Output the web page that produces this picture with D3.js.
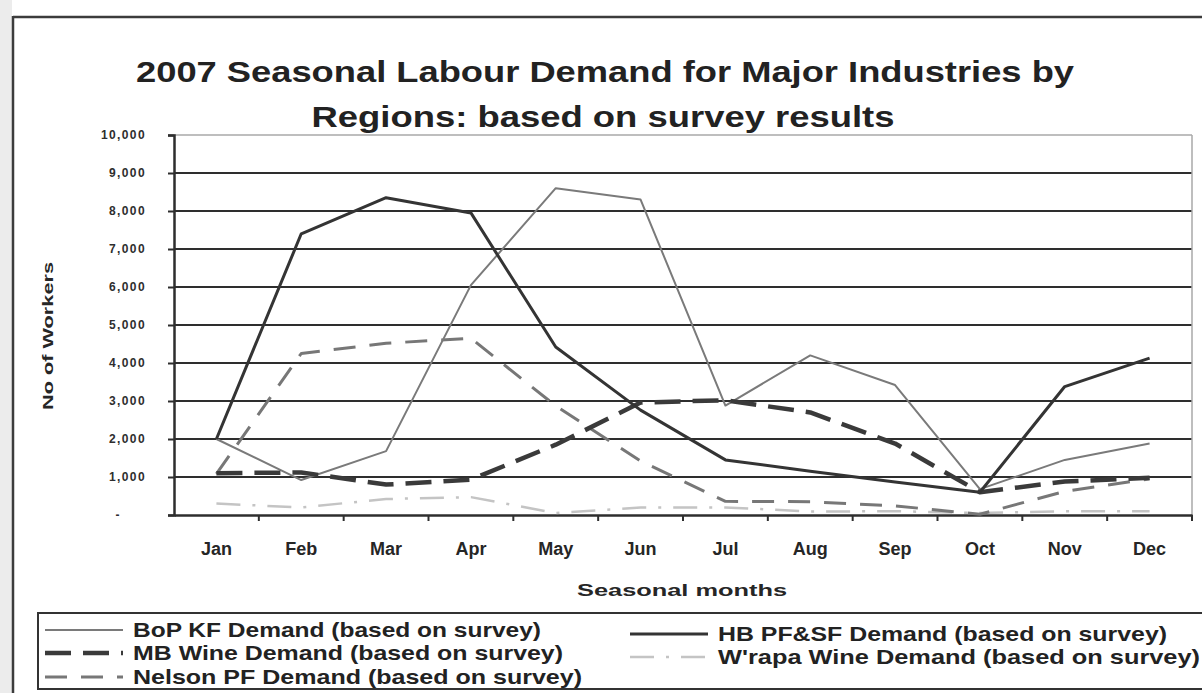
<!DOCTYPE html>
<html>
<head>
<meta charset="utf-8">
<script src="https://cdn.jsdelivr.net/npm/d3@7"></script>
<style>
  html, body { margin: 0; padding: 0; background: #fff; }
  svg { display: block; font-family: "Liberation Sans", Arial, sans-serif; }
</style>
</head>
<body>
<svg id="chart" width="1202" height="693"></svg>
<script>
// Months along the x axis
const months = ["Jan","Feb","Mar","Apr","May","Jun","Jul","Aug","Sep","Oct","Nov","Dec"];

// Workers demanded per month, by region / industry
const bopKF     = [2000, 920, 1680, 6050, 8600, 8300, 2880, 4200, 3420, 680, 1450, 1880];
const hbPFSF    = [2000, 7400, 8350, 7950, 4420, 2760, 1450, 1150, 870, 600, 3380, 4130];
const mbWine    = [1100, 1120, 800, 930, 1850, 2960, 3020, 2700, 1880, 600, 880, 980];
const nelsonPF  = [1080, 4250, 4520, 4650, 2870, 1420, 360, 350, 240, 20, 620, 950];
const wrapaWine = [300, 200, 420, 470, 50, 200, 200, 90, 100, 50, 100, 100];

const yTicks = [0,1000,2000,3000,4000,5000,6000,7000,8000,9000,10000];

const seriesNames = [
  "BoP KF Demand (based on survey)",
  "HB PF&SF Demand (based on survey)",
  "MB Wine Demand (based on survey)",
  "W'rapa Wine Demand (based on survey)",
  "Nelson PF Demand (based on survey)"
];

const series = [
  { name: seriesNames[0], values: bopKF,     stroke: "#7a7a7a", width: 2,   dash: null },
  { name: seriesNames[1], values: hbPFSF,    stroke: "#343434", width: 3,   dash: null },
  { name: seriesNames[2], values: mbWine,    stroke: "#3a3a3a", width: 4.5, dash: "26,12" },
  { name: seriesNames[3], values: wrapaWine, stroke: "#c4c4c4", width: 2.5, dash: "24,12,3,12" },
  { name: seriesNames[4], values: nelsonPF,  stroke: "#777777", width: 3,   dash: "22,14" }
];

const svg = d3.select("#chart");

// page frame
svg.append("rect").attr("x", 0).attr("y", 0).attr("width", 12).attr("height", 693).attr("fill", "#ececec");
svg.append("line").attr("x1", 13).attr("x2", 1202).attr("y1", 17).attr("y2", 17)
  .attr("stroke", "#3c3c3c").attr("stroke-width", 2.5);
svg.append("line").attr("x1", 13).attr("x2", 13).attr("y1", 16).attr("y2", 693)
  .attr("stroke", "#3c3c3c").attr("stroke-width", 2.5);

// title
const title = svg.append("g").attr("font-weight", "bold").attr("font-size", 30).attr("fill", "#222")
  .attr("text-anchor", "middle");
title.append("text").attr("x", 605).attr("y", 82)
  .attr("textLength", 938).attr("lengthAdjust", "spacingAndGlyphs")
  .text("2007 Seasonal Labour Demand for Major Industries by");
title.append("text").attr("x", 603).attr("y", 127)
  .attr("textLength", 583).attr("lengthAdjust", "spacingAndGlyphs")
  .text("Regions: based on survey results");

// scales
const plot = { left: 174, right: 1192, top: 135, bottom: 515 };
const x = d3.scaleBand().domain(months).range([plot.left, plot.right]).paddingInner(0).paddingOuter(0);
const xc = d => x(d) + x.bandwidth() / 2;
const y = d3.scaleLinear().domain([0, 10000]).range([plot.bottom, plot.top]);

// gridlines
svg.append("g").selectAll("line").data(yTicks.filter(v => v > 0)).join("line")
  .attr("x1", plot.left).attr("x2", plot.right)
  .attr("y1", d => y(d)).attr("y2", d => y(d))
  .attr("stroke", d => d === 10000 ? "#a8a8a8" : "#2e2e2e")
  .attr("stroke-width", d => d === 10000 ? 1.5 : 2);
svg.append("line").attr("x1", plot.right).attr("x2", plot.right)
  .attr("y1", plot.top).attr("y2", plot.bottom).attr("stroke", "#a8a8a8").attr("stroke-width", 1.5);

// y axis
const yAxis = d3.axisLeft(y).tickValues(yTicks).tickSize(6).tickPadding(22)
  .tickFormat(d => d === 0 ? "-" : d3.format(",")(d));
const gy = svg.append("g").attr("transform", `translate(${plot.left},0)`).call(yAxis);
gy.select(".domain").attr("stroke", "#2e2e2e").attr("stroke-width", 2.5);
gy.selectAll(".tick line").attr("stroke", "#2e2e2e").attr("stroke-width", 2);
gy.selectAll(".tick text")
  .attr("font-family", "Liberation Sans, Arial, sans-serif")
  .attr("font-size", 12).attr("font-weight", "bold").attr("fill", "#2e2e2e")
  .attr("letter-spacing", 1.4)
  .attr("dx", d => d === 0 ? -25 : 0);

// x axis
const xAxis = d3.axisBottom(x).tickSize(0).tickPadding(27);
const gx = svg.append("g").attr("transform", `translate(0,${plot.bottom})`).call(xAxis);
gx.select(".domain").attr("stroke", "#2e2e2e").attr("stroke-width", 2.5);
gx.selectAll(".tick text")
  .attr("font-family", "Liberation Sans, Arial, sans-serif")
  .attr("font-size", 18).attr("font-weight", "bold").attr("fill", "#262626");
// category boundary ticks
svg.append("g").selectAll("line").data(months.slice(1).concat(["end"])).join("line")
  .attr("x1", d => d === "end" ? plot.right : x(d)).attr("x2", d => d === "end" ? plot.right : x(d))
  .attr("y1", plot.bottom).attr("y2", plot.bottom + 6)
  .attr("stroke", "#2e2e2e").attr("stroke-width", 2);

// axis titles
svg.append("text").attr("x", 682).attr("y", 596).attr("text-anchor", "middle")
  .attr("font-size", 17).attr("font-weight", "bold").attr("fill", "#262626")
  .attr("textLength", 210).attr("lengthAdjust", "spacingAndGlyphs")
  .text("Seasonal months");
svg.append("text").attr("transform", "translate(53,336) rotate(-90)").attr("text-anchor", "middle")
  .attr("font-size", 15).attr("font-weight", "bold").attr("fill", "#262626")
  .attr("textLength", 148).attr("lengthAdjust", "spacingAndGlyphs")
  .text("No of Workers");

// series lines
const line = d3.line().x((d, i) => xc(months[i])).y(d => y(d));
const drawOrder = [3, 4, 0, 2, 1];
svg.append("g").selectAll("path").data(drawOrder.map(i => series[i])).join("path")
  .attr("d", s => line(s.values))
  .attr("fill", "none")
  .attr("stroke", s => s.stroke)
  .attr("stroke-width", s => s.width)
  .attr("stroke-dasharray", s => s.dash)
  .attr("stroke-linejoin", "round");

// legend
svg.append("rect").attr("x", 38).attr("y", 613).attr("width", 1180).attr("height", 76)
  .attr("fill", "none").attr("stroke", "#333").attr("stroke-width", 2);

const legendItems = [
  { s: series[0], x: 45,  y: 630, len: 408 },
  { s: series[2], x: 45,  y: 653, len: 430 },
  { s: series[4], x: 45,  y: 677, len: 449 },
  { s: series[1], x: 630, y: 634, len: 449 },
  { s: series[3], x: 630, y: 657, len: 482 }
];
const lg = svg.append("g").selectAll("g").data(legendItems).join("g");
lg.append("line")
  .attr("x1", d => d.x).attr("x2", d => d.x + 78)
  .attr("y1", d => d.y).attr("y2", d => d.y)
  .attr("stroke", d => d.s.stroke)
  .attr("stroke-width", d => d.s.width)
  .attr("stroke-dasharray", d => d.s.dash);
lg.append("text")
  .attr("x", d => d.x + 88).attr("y", d => d.y + 7)
  .attr("font-size", 21).attr("font-weight", "bold").attr("fill", "#222")
  .attr("textLength", d => d.len).attr("lengthAdjust", "spacingAndGlyphs")
  .text(d => d.s.name);
</script>
</body>
</html>
